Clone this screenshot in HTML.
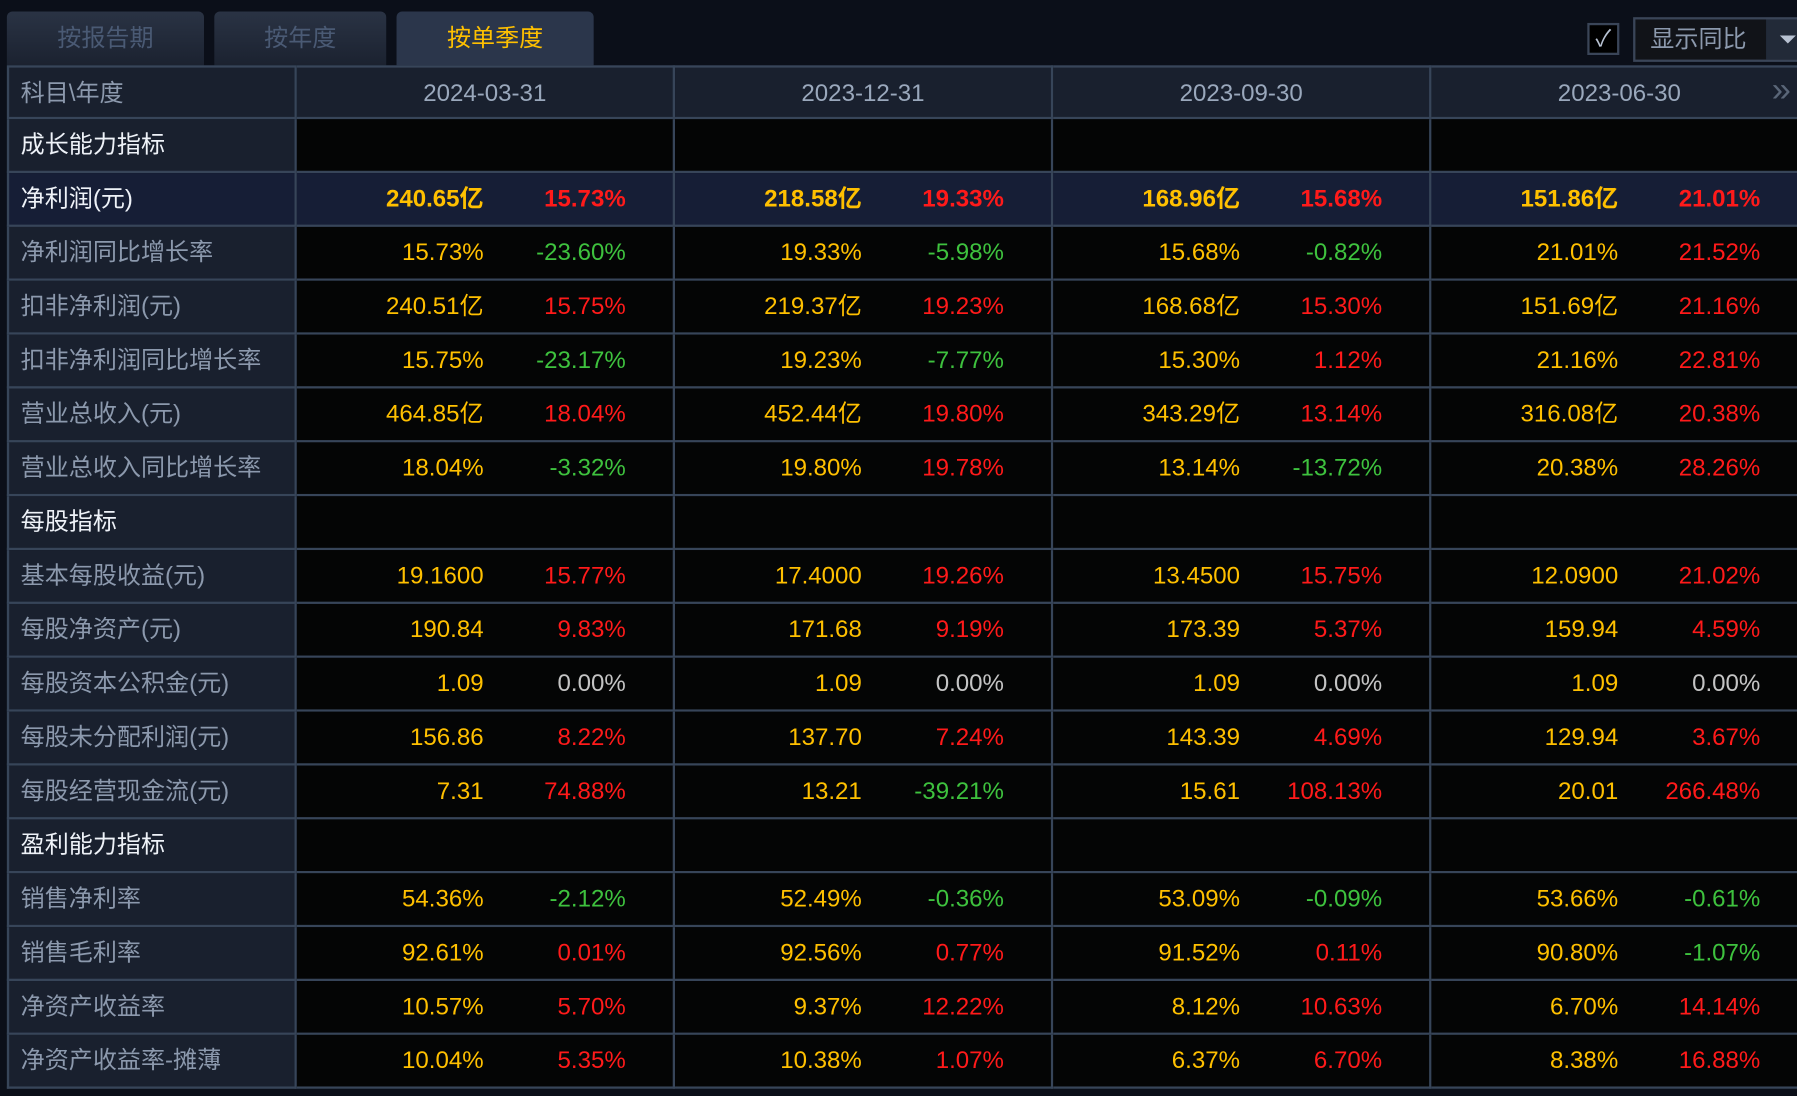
<!DOCTYPE html>
<html><head><meta charset="utf-8">
<style>
html,body{margin:0;padding:0;background:#0b0f19;overflow:hidden;}
#wrap{position:absolute;left:0;top:0;width:1568px;height:956px;transform:scale(1.14605);transform-origin:0 0;background:#0b0f19;font-family:"Liberation Sans Narrow","Liberation Sans","Noto Sans CJK SC",sans-serif;}
.tab{position:absolute;top:10px;height:47px;border-radius:5px 5px 0 0;background:linear-gradient(#2a3344,#1b2230);color:#4a5a74;font-size:21px;text-align:center;line-height:47px;font-family:"Liberation Sans","Noto Sans CJK SC",sans-serif;}
.tab.on{background:#2b364b;color:#ffc000;}
.cell{position:absolute;box-sizing:border-box;border-right:2px solid #374559;border-bottom:2px solid #374559;}
.lbl{color:#8c99ad;font-size:21px;padding-left:10px;line-height:45px;font-family:"Liberation Sans","Noto Sans CJK SC",sans-serif;}
.grp{color:#eef2f8;}
.v{position:absolute;top:0;line-height:45px;font-size:21px;text-align:right;white-space:nowrap;}
.hd{color:#9aa8bc;font-size:21px;text-align:center;line-height:45px;}
</style></head><body>
<div id="wrap">
<div class="tab" style="left:6px;width:172px">按报告期</div>
<div class="tab" style="left:187px;width:150px">按年度</div>
<div class="tab on" style="left:346px;width:172px">按单季度</div>
<div style="position:absolute;left:1385px;top:20px;width:24px;height:24px;border:2px solid #3a4558;background:#000;color:#b8c2d2;font-size:20px;text-align:center;line-height:24px">✓</div>
<div style="position:absolute;left:1425px;top:15px;width:150px;height:35px;border:2px solid #3a4558;background:#111318;">
<span style="position:absolute;left:13px;top:0;line-height:35px;color:#8c99ad;font-size:21px;font-family:'Liberation Sans','Noto Sans CJK SC',sans-serif">显示同比</span>
<div style="position:absolute;left:114px;top:0;width:36px;height:35px;background:#222a38"></div>
<div style="position:absolute;left:126px;top:14px;border-left:7px solid transparent;border-right:7px solid transparent;border-top:7px solid #b8c2d2"></div>
</div>
<div id="tbl"></div>
</div>
<script>
const periods=["2024-03-31","2023-12-31","2023-09-30","2023-06-30"];
const rowLabels=["成长能力指标","净利润(元)","净利润同比增长率","扣非净利润(元)","扣非净利润同比增长率","营业总收入(元)","营业总收入同比增长率","每股指标","基本每股收益(元)","每股净资产(元)","每股资本公积金(元)","每股未分配利润(元)","每股经营现金流(元)","盈利能力指标","销售净利率","销售毛利率","净资产收益率","净资产收益率-摊薄"];
const groupRows=[0,7,13];
const values=[
null,
["240.65亿","218.58亿","168.96亿","151.86亿"],
["15.73%","19.33%","15.68%","21.01%"],
["240.51亿","219.37亿","168.68亿","151.69亿"],
["15.75%","19.23%","15.30%","21.16%"],
["464.85亿","452.44亿","343.29亿","316.08亿"],
["18.04%","19.80%","13.14%","20.38%"],
null,
["19.1600","17.4000","13.4500","12.0900"],
["190.84","171.68","173.39","159.94"],
["1.09","1.09","1.09","1.09"],
["156.86","137.70","143.39","129.94"],
["7.31","13.21","15.61","20.01"],
null,
["54.36%","52.49%","53.09%","53.66%"],
["92.61%","92.56%","91.52%","90.80%"],
["10.57%","9.37%","8.12%","6.70%"],
["10.04%","10.38%","6.37%","8.38%"]];
const yoy=[
null,
["15.73%","19.33%","15.68%","21.01%"],
["-23.60%","-5.98%","-0.82%","21.52%"],
["15.75%","19.23%","15.30%","21.16%"],
["-23.17%","-7.77%","1.12%","22.81%"],
["18.04%","19.80%","13.14%","20.38%"],
["-3.32%","19.78%","-13.72%","28.26%"],
null,
["15.77%","19.26%","15.75%","21.02%"],
["9.83%","9.19%","5.37%","4.59%"],
["0.00%","0.00%","0.00%","0.00%"],
["8.22%","7.24%","4.69%","3.67%"],
["74.88%","-39.21%","108.13%","266.48%"],
null,
["-2.12%","-0.36%","-0.09%","-0.61%"],
["0.01%","0.77%","0.11%","-1.07%"],
["5.70%","12.22%","10.63%","14.14%"],
["5.35%","1.07%","6.70%","16.88%"]];
const tbl=document.getElementById('tbl');
const top0=57,rh=47,lw=253,cw=330,x0=6;
function mk(cls,l,t,w,h,bg){const d=document.createElement('div');d.className=cls;d.style.left=l+'px';d.style.top=t+'px';d.style.width=w+'px';d.style.height=h+'px';if(bg)d.style.background=bg;tbl.appendChild(d);return d;}
// header
let h=mk('cell lbl',x0,top0,lw,rh,'#19202e');h.textContent='科目\\年度';h.style.borderLeft='2px solid #374559';h.style.borderTop='2px solid #374559';


periods.forEach((p,i)=>{const c=mk('cell hd',x0+lw+i*cw,top0,cw,rh,'#19202e');c.textContent=p;c.style.borderTop='2px solid #374559';

});
const arr=document.createElement('div');arr.textContent='»';arr.style.cssText='position:absolute;left:1546px;top:62px;color:#5a6678;font-size:30px;';


tbl.appendChild(arr);
function col(s){if(s==='0.00%')return '#c4c4c4';return s.charAt(0)==='-'?'#3ec23e':'#ff1a1a';}
rowLabels.forEach((lab,r)=>{
 const t=top0+rh*(r+1);const isG=groupRows.includes(r);const hi=r===1;
 const L=mk('cell lbl'+(isG||hi?' grp':''),x0,t,lw,rh,hi?'#161e36':'#19202e');L.textContent=lab;L.style.borderLeft='2px solid #374559';
 
 
 periods.forEach((p,i)=>{
  const c=mk('cell',x0+lw+i*cw,t,cw,rh,hi?'#161e36':'#040505');
  
  
  if(values[r]){
   const a=document.createElement('span');a.className='v';a.style.right=(cw-165)+'px';a.style.color='#ffc000';a.textContent=values[r][i];if(hi)a.style.fontWeight='bold';
   
   
   c.appendChild(a);
   const b=document.createElement('span');b.className='v';b.style.right=(cw-289)+'px';b.style.color=col(yoy[r][i]);b.textContent=yoy[r][i];if(hi)b.style.fontWeight='bold';
   
   
   c.appendChild(b);
  }
 });
});
</script>
</body></html>
